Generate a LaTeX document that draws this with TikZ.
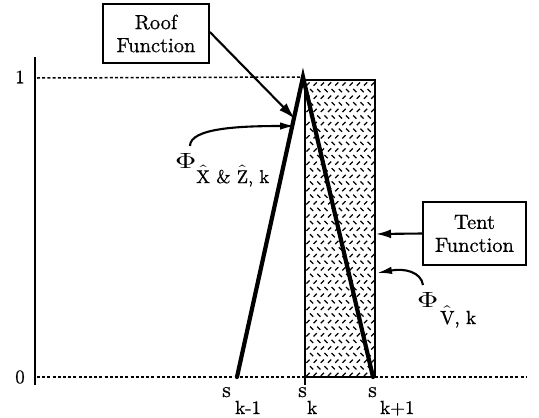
\documentclass[tikz,border=0pt]{standalone}
\usepackage{graphicx}
\usepackage{fontspec}
\usepackage{unicode-math}
\setmainfont{lmroman10-regular.otf}[FakeBold=0.7]
\usetikzlibrary{arrows.meta}
\begin{document}
\begin{tikzpicture}[x=1pt,y=-1pt,
  box/.style={draw,line width=1.7pt,inner sep=0pt,align=center,font=\fontsize{20.5}{23}\selectfont},
  lbl/.style={inner sep=0pt,font=\fontsize{19}{22}\selectfont},
  dots/.style={dash pattern=on 3pt off 2.2pt,line width=1.5pt},
  leg/.style={line width=4.2pt},
  ptr/.style={line width=2.1pt,-{Latex[length=15pt,width=9pt]}},
  hatch/.style={line width=1.25pt}]
\useasboundingbox (0,0) rectangle (539,418);
% coordinates
\coordinate (axtop) at (35,57);
\coordinate (axbot) at (35,385);
\coordinate (one) at (37,78);
\coordinate (peak) at (303,77);
\coordinate (zero) at (37,377);
\coordinate (zend) at (527,377);
\coordinate (footL) at (237,377);
\coordinate (footR) at (373,377);
\coordinate (tick) at (305,385);
\coordinate (rbase) at (305,377);
% hatching
\begin{scope}
\clip (305,80) rectangle (375,377);
\foreach \i in {0,...,11}{\foreach \j in {0,...,46}{
  \pgfmathtruncatemacro\m{mod(\j,2)}
  \ifnum\m=0
    \draw[hatch] ({308+7.2*\i},{84+6.6*\j}) ++(-1.6,1.6) -- ++(3.2,-3.2);
  \else
    \draw[hatch] ({311.6+7.2*\i},{84+6.6*\j}) ++(-1.6,-1.6) -- ++(3.2,3.2);
  \fi
}}
\end{scope}
\draw[line width=2pt] (305,80) rectangle (375,377);
% axes
\draw[line width=1.9pt] (axtop) -- (axbot);
\draw[dots] (one) -- (peak);
\draw[dots] (zero) -- (zend);
\draw[line width=1.5pt] (rbase) -- (tick);
\node[lbl,font=\fontsize{19}{20}\selectfont] (l1) at (20,77) {1};
\node[lbl,font=\fontsize{19}{20}\selectfont] (l0) at (20,377) {0};
% tent legs
\draw[leg,line cap=round] (footL) -- (peak) -- (footR);
% boxes
\node[box,minimum width=106pt,minimum height=59pt] (roof) at (156,33.5) {Roof\\Function};
\node[box,minimum width=103pt,minimum height=63pt] (tent) at (474.5,233.5) {Tent\\Function};
% arrows
\coordinate (roofTip) at (295,119);
\draw[ptr,-{Latex[length=17pt,width=10pt]}] (roof.east |- 0,32) -- (roofTip);
\coordinate (tentTip) at (376,234);
\draw[ptr] (tent.west) -- (tentTip);
% phi labels
\node[lbl,anchor=base west,font=\fontsize{21}{22}\selectfont] (phiXZ) at (175,168) {\scalebox{1.4}[1.05]{$\Phi$}};
\node[lbl,anchor=base west,font=\fontsize{18.5}{22}\selectfont] (subXZ) at (196,183) {$\hat{\mathrm{X}}$ \& $\hat{\mathrm{Z}}$, k};
\coordinate (xzStart) at (190,146);
\coordinate (xzTip) at (295,126);
\draw[ptr,-{Latex[length=15pt,width=7.5pt]}] (xzStart) .. controls (190,128) and (240,126) .. (xzTip);
\node[lbl,anchor=base west,font=\fontsize{21}{22}\selectfont] (phiV) at (417,307) {\scalebox{1.4}[1.05]{$\Phi$}};
\node[lbl,anchor=base west] (subV) at (440,324) {$\hat{\mathrm{V}}$, k};
\coordinate (vStart) at (423,285);
\coordinate (vTip) at (377,273);
\draw[ptr,-{Latex[length=15pt,width=7.5pt]}] (vStart) .. controls (421,272) and (405,268) .. (vTip);
% s labels
\node[lbl,anchor=base west,font=\fontsize{22}{22}\selectfont] (sk1) at (222,397) {s};
\node[lbl,anchor=base west] (sk1s) at (235,414) {k-1};
\node[lbl,anchor=base west,font=\fontsize{22}{22}\selectfont] (sk) at (298,397) {s};
\node[lbl,anchor=base west] (sks) at (307,414) {k};
\node[lbl,anchor=base west,font=\fontsize{22}{22}\selectfont] (skp) at (368,397) {s};
\node[lbl,anchor=base west] (skps) at (380,414) {k+1};
\end{tikzpicture}
\end{document}
